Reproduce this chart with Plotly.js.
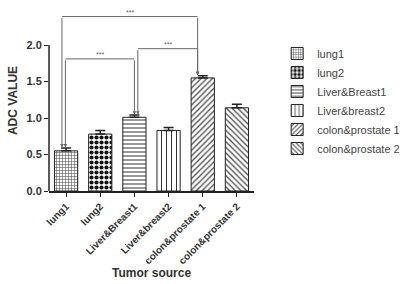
<!DOCTYPE html>
<html><head><meta charset="utf-8">
<script src="https://cdn.plot.ly/plotly-3.0.1.min.js"></script>
<style>body{margin:0;background:#fff}#c{width:415px;height:284px}</style>
</head><body><div id="c"></div>
<script>
const categories = ["lung1","lung2","Liver&Breast1","Liver&breast2","colon&prostate 1","colon&prostate 2"];
const values = [0.55, 0.78, 1.01, 0.83, 1.55, 1.14];
const errors = [0.04, 0.05, 0.03, 0.04, 0.03, 0.05];
const patterns = ["+", ".", "-", "|", "/", "\\"];
const patternSizes = [3, 5, 4, 5, 4, 4];
const patternSolidity = [0.35, 0.55, 0.25, 0.2, 0.35, 0.35];
const patternColors = ["#555", "#111", "#333", "#333", "#555", "#555"];
// significance brackets: [fromIndex, toIndex, bracketHeight, label]
const compFrom = [0, 0, 2];
const compTo = [4, 2, 4];
const compY = [2.39, 1.81, 1.95];
const compLabel = ["***", "***", "***"];

const traces = categories.map((c, i) => ({
  type: "bar", x: [c], y: [values[i]], name: c,
  marker: {color: "white", line: {color: "#222", width: 1},
    pattern: {shape: patterns[i], fgcolor: patternColors[i], bgcolor: "white", size: patternSizes[i], solidity: patternSolidity[i]}},
  error_y: {type: "data", symmetric: false, array: [errors[i]], arrayminus: [0], color: "#222", thickness: 1.5, width: 5},
  width: 0.68
}));

const shapes = [{type: "line", xref: "paper", yref: "y", x0: 0, x1: 0, y0: 0, y1: 2.0, line: {color: "#222", width: 1.5}}];
const annotations = [];
const legOffset = [[-0.12, -0.15], [-0.02, 0], [0.1, -0.15]];
for (let k = 0; k < compFrom.length; k++) {
  const a = compFrom[k] + legOffset[k][0], b = compTo[k] + legOffset[k][1];
  shapes.push({type: "line", xref: "x", yref: "y", x0: a, x1: b, y0: compY[k], y1: compY[k], line: {color: "#666", width: 1}});
  [[a, compFrom[k]], [b, compTo[k]]].forEach(([px, idx]) => {
    annotations.push({x: px, y: values[idx] + errors[idx] + 0.005, ax: px, ay: compY[k], xref: "x", yref: "y", axref: "x", ayref: "y",
      text: "", showarrow: true, arrowhead: 2, arrowsize: 0.7, arrowwidth: 1, arrowcolor: "#666"});
  });
  annotations.push({x: (a + b) / 2, y: compY[k], xref: "x", yref: "y", text: compLabel[k], showarrow: false,
    yanchor: "bottom", yshift: -1, font: {size: 7, color: "#666", family: "Liberation Sans, Arial"}});
}

const layout = {
  width: 415, height: 284, margin: {l: 49, r: 138, t: 10, b: 93},
  paper_bgcolor: "white", plot_bgcolor: "white", showlegend: true, bargap: 0.32,
  font: {family: "Liberation Sans, Arial", color: "#333"},
  xaxis: {showline: true, linecolor: "#222", linewidth: 1.5, ticks: "outside", ticklen: 4, tickcolor: "#222",
    tickangle: -45, tickfont: {size: 10, color: "#333", family: "Liberation Sans, Arial", weight: "bold"},
    title: {text: "<b>Tumor source</b>", font: {size: 12, color: "#333"}, standoff: 2}},
  yaxis: {range: [0, 2.48], showline: false, showgrid: false, zeroline: false, ticks: "outside", ticklen: 4, tickcolor: "#222",
    tickvals: [0, 0.5, 1.0, 1.5, 2.0], ticktext: ["0.0","0.5","1.0","1.5","2.0"],
    tickfont: {size: 11, color: "#333", weight: "bold"},
    title: {text: "<b>ADC VALUE</b>", font: {size: 12, color: "#333"}, standoff: 6}},
  legend: {x: 1.113, y: 0.84, xanchor: "left", yanchor: "top", font: {size: 11, color: "#444"}, tracegroupgap: 0, itemwidth: 30},
  shapes: shapes, annotations: annotations
};
Plotly.newPlot("c", traces, layout, {displayModeBar: false});
</script></body></html>
